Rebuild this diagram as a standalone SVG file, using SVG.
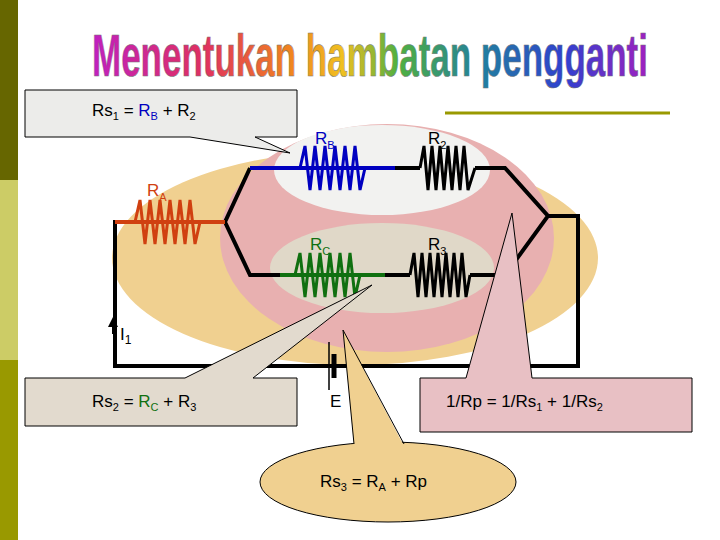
<svg xmlns="http://www.w3.org/2000/svg" width="720" height="540" viewBox="0 0 720 540">
<defs>
<linearGradient id="rb" x1="0" x2="1" y1="0" y2="0">
<stop offset="0" stop-color="#c020c0"/><stop offset="0.2" stop-color="#e03060"/><stop offset="0.35" stop-color="#f08020"/><stop offset="0.45" stop-color="#f0c020"/><stop offset="0.55" stop-color="#50b040"/><stop offset="0.7" stop-color="#2080a0"/><stop offset="0.85" stop-color="#3040d0"/><stop offset="1" stop-color="#a020c0"/>
</linearGradient>
<marker id="ar" viewBox="0 0 10 10" refX="5" refY="5" markerWidth="5" markerHeight="5" orient="auto"><path d="M0,0L10,5L0,10z" fill="#000"/></marker>
</defs>
<style>
.t{font-family:"Liberation Sans",Arial,sans-serif;font-size:17px;fill:#000}
.w{fill:none;stroke:#000;stroke-width:4}
.z{fill:none;stroke-width:3}
.c{stroke:#000;stroke-width:1}
</style>
<rect width="720" height="540" fill="#fff"/>
<rect x="0" y="0" width="18" height="180" fill="#666600"/>
<rect x="0" y="180" width="18" height="180" fill="#cccc66"/>
<rect x="0" y="360" width="18" height="180" fill="#999900"/>
<line x1="445" y1="113" x2="670" y2="113" stroke="#999900" stroke-width="3"/>
<text x="370" y="76" text-anchor="middle" font-family="Liberation Sans,sans-serif" font-weight="bold" font-size="60" fill="url(#rb)" stroke="#777" stroke-width="0.6" textLength="556" lengthAdjust="spacingAndGlyphs">Menentukan hambatan pengganti</text>
<g id="bg">
<ellipse cx="355" cy="258" rx="243" ry="107" fill="#f0d090"/>
<ellipse cx="387" cy="238" rx="167" ry="114" fill="#e8b0b0"/>
<ellipse cx="382" cy="170" rx="108" ry="45" fill="#f2f2f0"/>
<ellipse cx="382" cy="268" rx="112" ry="45" fill="#e0d8c8"/>
</g>
<g id="connectors">
<polyline class="w" points="225,222 115,222 115,366 578,366 578,216 548,216"/>
<polyline class="w" points="250,168 225,222 250,275 280,275"/>
<polyline class="w" points="475,168 505,168 548,216 505,275 470,275"/>
<line x1="395" y1="168" x2="420" y2="168" stroke="#000" stroke-width="4"/>
<line x1="385" y1="275" x2="410" y2="275" stroke="#000" stroke-width="4"/>
<line x1="115" y1="222" x2="225" y2="222" stroke="#d04010" stroke-width="4"/>
<line x1="250" y1="168" x2="395" y2="168" stroke="#0000c0" stroke-width="4"/>
<line x1="280" y1="275" x2="385" y2="275" stroke="#107010" stroke-width="4"/>
<line x1="113" y1="334" x2="113" y2="322" stroke="#000" stroke-width="2" marker-end="url(#ar)"/>
<line x1="329" y1="342" x2="329" y2="390" stroke="#000" stroke-width="1.5"/>
<line x1="334" y1="354" x2="334" y2="378" stroke="#000" stroke-width="5"/>
</g>
<g id="RA"><polyline class="z" stroke="#d04010" points="135,222 140,200 145,244 150,200 155,244 160,200 165,244 170,200 175,244 180,200 185,244 190,200 195,244 200,222"/><text class="t" x="147" y="196" style="fill:#d04010">R<tspan font-size="11" dy="5">A</tspan></text></g>
<g id="RB"><polyline class="z" stroke="#0000c0" points="300,168 305,146 310,190 315,146 320,190 325,146 330,190 335,146 340,190 345,146 350,190 355,146 360,190 365,168"/><text class="t" x="315" y="144" style="fill:#0000c0">R<tspan font-size="11" dy="5">B</tspan></text></g>
<g id="R2"><polyline class="z" stroke="#000" points="420,168 424,146 428,190 432,146 436,190 440,146 444,190 448,146 452,190 456,146 460,190 464,146 468,190 475,168"/><text class="t" x="428" y="144">R<tspan font-size="11" dy="5">2</tspan></text></g>
<g id="RC"><polyline class="z" stroke="#107010" points="295,275 300,253 305,297 310,253 315,297 320,253 325,297 330,253 335,297 340,253 345,297 350,253 355,297 360,275"/><text class="t" x="310" y="250" style="fill:#107010">R<tspan font-size="11" dy="5">C</tspan></text></g>
<g id="R3"><polyline class="z" stroke="#000" points="410,275 414,253 418,297 422,253 426,297 430,253 434,297 438,253 442,297 446,253 450,297 454,253 458,297 462,253 466,297 470,275"/><text class="t" x="428" y="250">R<tspan font-size="11" dy="5">3</tspan></text></g>
<text class="t" x="120" y="340" font-family="Liberation Serif,serif">I<tspan font-size="12" dy="4">1</tspan></text>
<text class="t" x="330" y="407" font-size="20">E</text>
<g id="box1"><path d="M25,90H297V137H255L290,153L190,137H25Z" fill="#ececea" class="c"/><text class="t" x="92" y="116">Rs<tspan font-size="11" dy="4">1</tspan><tspan dy="-4"> = </tspan><tspan style="fill:#0000c0">R</tspan><tspan font-size="11" dy="4" style="fill:#0000c0">B</tspan><tspan dy="-4"> + R</tspan><tspan font-size="11" dy="4">2</tspan></text></g>
<g id="box2"><path d="M25,378H185L372,285L253,378H297V426H25Z" fill="#e2dace" class="c"/><text class="t" x="92" y="407">Rs<tspan font-size="11" dy="4">2</tspan><tspan dy="-4"> = </tspan><tspan style="fill:#107010">R</tspan><tspan font-size="11" dy="4" style="fill:#107010">C</tspan><tspan dy="-4"> + R</tspan><tspan font-size="11" dy="4">3</tspan></text></g>
<g id="box3"><path d="M420,378H466L512,213L532,378H692V432H420Z" fill="#e8c0c4" class="c"/><text class="t" x="446" y="407">1/Rp = 1/Rs<tspan font-size="11" dy="4">1</tspan><tspan dy="-4"> + 1/Rs</tspan><tspan font-size="11" dy="4">2</tspan></text></g>
<g id="box4"><ellipse cx="388" cy="482" rx="128" ry="40" fill="#f0d090" class="c"/><path d="M354,446L343,330L404,446Z" fill="#f0d090"/><polyline points="354,444 343,330 404,444" fill="none" class="c"/><text class="t" x="320" y="487">Rs<tspan font-size="11" dy="4">3</tspan><tspan dy="-4"> = R</tspan><tspan font-size="11" dy="4">A</tspan><tspan dy="-4"> + Rp</tspan></text></g>
</svg>
